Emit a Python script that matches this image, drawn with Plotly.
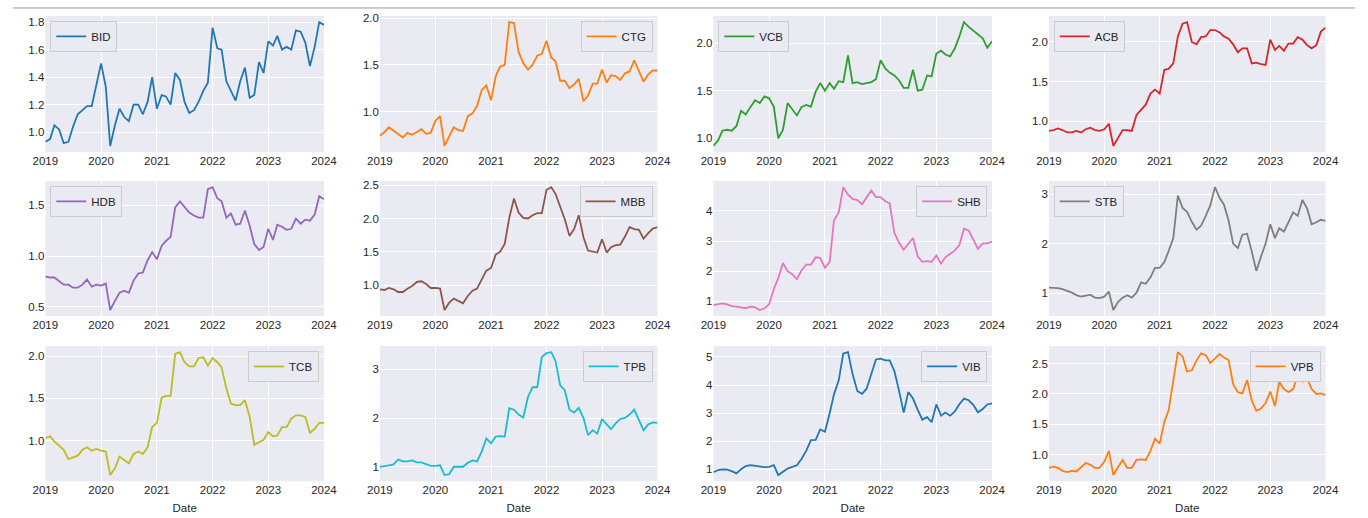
import pandas as pd
import plotly.graph_objects as go

# monthly closes, Jan 2019 .. Jan 2024 (relative to first point)
dates = pd.date_range("2019-01-01", periods=61, freq="MS")

BID = [0.93, 0.95, 1.05, 1.02, 0.92, 0.93, 1.04, 1.13, 1.16, 1.19, 1.19, 1.35,
       1.50, 1.33, 0.90, 1.05, 1.17, 1.11, 1.08, 1.20, 1.20, 1.13, 1.22, 1.40,
       1.17, 1.27, 1.26, 1.20, 1.43, 1.38, 1.22, 1.14, 1.16, 1.22, 1.30, 1.36,
       1.76, 1.61, 1.60, 1.37, 1.30, 1.23, 1.37, 1.47, 1.25, 1.27, 1.51, 1.43,
       1.66, 1.63, 1.70, 1.60, 1.62, 1.60, 1.74, 1.73, 1.65, 1.48, 1.62, 1.80,
       1.78]
CTG = [0.74, 0.78, 0.83, 0.79, 0.75, 0.72, 0.77, 0.75, 0.78, 0.81, 0.76, 0.77,
       0.90, 0.95, 0.63, 0.73, 0.83, 0.80, 0.79, 0.95, 0.98, 1.06, 1.23, 1.28,
       1.12, 1.38, 1.48, 1.50, 1.96, 1.95, 1.64, 1.52, 1.45, 1.50, 1.60, 1.62,
       1.76, 1.58, 1.54, 1.33, 1.33, 1.25, 1.29, 1.35, 1.11, 1.17, 1.30, 1.30,
       1.45, 1.31, 1.39, 1.38, 1.34, 1.41, 1.43, 1.55, 1.44, 1.32, 1.40, 1.44,
       1.44]
VCB = [0.92, 0.98, 1.08, 1.09, 1.08, 1.13, 1.29, 1.25, 1.33, 1.40, 1.37, 1.44,
       1.42, 1.33, 1.00, 1.09, 1.37, 1.30, 1.24, 1.33, 1.35, 1.33, 1.49, 1.58,
       1.50, 1.58, 1.52, 1.60, 1.59, 1.87, 1.58, 1.59, 1.57, 1.58, 1.59, 1.62,
       1.82, 1.73, 1.69, 1.66, 1.61, 1.53, 1.53, 1.72, 1.50, 1.51, 1.66, 1.65,
       1.89, 1.92, 1.88, 1.86, 1.94, 2.07, 2.22, 2.17, 2.13, 2.10, 2.05, 1.95,
       2.02]
ACB = [0.88, 0.89, 0.91, 0.89, 0.86, 0.86, 0.88, 0.86, 0.90, 0.92, 0.89, 0.88,
       0.90, 0.97, 0.69, 0.80, 0.89, 0.89, 0.88, 1.08, 1.14, 1.21, 1.35, 1.40,
       1.35, 1.65, 1.66, 1.73, 2.07, 2.23, 2.25, 2.00, 1.97, 2.06, 2.07, 2.15,
       2.15, 2.12, 2.07, 2.04, 1.97, 1.87, 1.92, 1.92, 1.73, 1.74, 1.72, 1.71,
       2.03, 1.90, 1.95, 1.89, 1.98, 1.98, 2.06, 2.03, 1.96, 1.92, 1.96, 2.13,
       2.18]
HDB = [0.80, 0.79, 0.79, 0.75, 0.72, 0.72, 0.69, 0.69, 0.72, 0.77, 0.70, 0.72,
       0.71, 0.73, 0.47, 0.56, 0.64, 0.66, 0.64, 0.76, 0.83, 0.84, 0.96, 1.04,
       0.97, 1.10, 1.15, 1.19, 1.48, 1.54, 1.48, 1.43, 1.40, 1.38, 1.38, 1.66,
       1.68, 1.57, 1.54, 1.38, 1.42, 1.31, 1.32, 1.45, 1.30, 1.12, 1.06, 1.09,
       1.27, 1.16, 1.31, 1.29, 1.26, 1.27, 1.37, 1.32, 1.36, 1.35, 1.41, 1.59,
       1.56]
MBB = [0.94, 0.93, 0.96, 0.94, 0.90, 0.90, 0.95, 0.99, 1.05, 1.06, 1.02, 0.96,
       0.96, 0.95, 0.63, 0.74, 0.80, 0.77, 0.73, 0.84, 0.92, 0.95, 1.09, 1.22,
       1.26, 1.46, 1.50, 1.62, 2.01, 2.30, 2.09, 2.01, 2.00, 2.05, 2.08, 2.08,
       2.43, 2.47, 2.37, 2.16, 1.99, 1.74, 1.84, 2.05, 1.72, 1.52, 1.50, 1.49,
       1.69, 1.49, 1.57, 1.60, 1.61, 1.73, 1.87, 1.84, 1.83, 1.70, 1.78, 1.85,
       1.87]
SHB = [0.87, 0.90, 0.93, 0.90, 0.84, 0.82, 0.80, 0.77, 0.82, 0.80, 0.71, 0.76,
       0.90, 1.41, 1.77, 2.27, 2.00, 1.90, 1.73, 2.03, 2.22, 2.22, 2.46, 2.44,
       2.11, 2.31, 3.68, 3.95, 4.79, 4.54, 4.40, 4.36, 4.22, 4.43, 4.68, 4.46,
       4.46, 4.32, 4.25, 3.27, 2.95, 2.71, 2.92, 3.10, 2.49, 2.31, 2.33, 2.31,
       2.52, 2.25, 2.46, 2.57, 2.68, 2.87, 3.41, 3.35, 3.01, 2.74, 2.92, 2.92,
       2.98]
STB = [1.11, 1.11, 1.10, 1.08, 1.05, 1.01, 0.96, 0.93, 0.95, 0.97, 0.91, 0.90,
       0.93, 1.03, 0.66, 0.82, 0.91, 0.96, 0.91, 1.01, 1.22, 1.19, 1.32, 1.51,
       1.51, 1.63, 1.85, 2.11, 2.97, 2.72, 2.64, 2.44, 2.28, 2.36, 2.56, 2.77,
       3.14, 2.92, 2.79, 2.46, 2.00, 1.91, 2.18, 2.20, 1.84, 1.45, 1.74, 2.00,
       2.39, 2.11, 2.31, 2.24, 2.43, 2.63, 2.56, 2.88, 2.71, 2.39, 2.43, 2.48,
       2.46]
TCB = [1.03, 1.05, 0.99, 0.94, 0.89, 0.78, 0.80, 0.82, 0.89, 0.92, 0.88, 0.90,
       0.88, 0.87, 0.59, 0.67, 0.81, 0.77, 0.73, 0.84, 0.87, 0.84, 0.92, 1.16,
       1.21, 1.51, 1.53, 1.53, 2.03, 2.05, 1.93, 1.88, 1.88, 1.98, 1.99, 1.89,
       1.98, 1.93, 1.87, 1.62, 1.44, 1.42, 1.42, 1.48, 1.28, 0.95, 0.98, 1.01,
       1.10, 1.05, 1.06, 1.16, 1.16, 1.26, 1.30, 1.30, 1.28, 1.09, 1.14, 1.21,
       1.21]
TPB = [1.00, 1.01, 1.03, 1.05, 1.15, 1.11, 1.11, 1.13, 1.09, 1.09, 1.06, 1.02,
       1.02, 1.03, 0.83, 0.85, 1.00, 1.00, 1.00, 1.08, 1.13, 1.11, 1.31, 1.58,
       1.48, 1.62, 1.63, 1.62, 2.20, 2.17, 2.07, 2.01, 2.43, 2.63, 2.63, 3.25,
       3.33, 3.35, 3.17, 2.67, 2.57, 2.17, 2.11, 2.21, 2.00, 1.65, 1.75, 1.68,
       1.98, 1.87, 1.77, 1.89, 1.98, 2.00, 2.07, 2.17, 1.97, 1.75, 1.87, 1.91,
       1.90]
VIB = [0.90, 0.98, 1.00, 0.99, 0.94, 0.86, 1.01, 1.12, 1.15, 1.13, 1.09, 1.08,
       1.09, 1.15, 0.80, 0.92, 1.03, 1.09, 1.15, 1.38, 1.67, 2.04, 2.05, 2.42,
       2.34, 3.00, 3.67, 4.16, 5.12, 5.17, 4.39, 3.79, 3.69, 3.87, 4.39, 4.91,
       4.94, 4.88, 4.88, 4.50, 3.81, 3.02, 3.75, 3.52, 3.12, 2.77, 2.86, 2.68,
       3.31, 2.91, 3.02, 2.91, 3.05, 3.32, 3.52, 3.46, 3.29, 3.03, 3.15, 3.31,
       3.35]
VPB = [0.78, 0.80, 0.78, 0.73, 0.71, 0.73, 0.72, 0.79, 0.86, 0.83, 0.78, 0.78,
       0.88, 1.06, 0.66, 0.79, 0.91, 0.78, 0.78, 0.91, 0.92, 0.91, 1.06, 1.26,
       1.18, 1.54, 1.73, 2.22, 2.69, 2.62, 2.37, 2.39, 2.55, 2.67, 2.64, 2.51,
       2.59, 2.66, 2.60, 2.56, 2.16, 2.03, 2.01, 2.23, 1.89, 1.72, 1.76, 1.85,
       2.04, 1.80, 2.20, 2.08, 2.03, 2.08, 2.31, 2.20, 2.26, 2.08, 2.00, 2.01,
       1.98]

tickers = ["BID", "CTG", "VCB", "ACB", "HDB", "MBB", "SHB", "STB", "TCB", "TPB", "VIB", "VPB"]
series = [BID, CTG, VCB, ACB, HDB, MBB, SHB, STB, TCB, TPB, VIB, VPB]
colors = ["#1f77b4", "#ff7f0e", "#2ca02c", "#d62728", "#9467bd", "#8c564b",
          "#e377c2", "#7f7f7f", "#bcbd22", "#17becf", "#1f77b4", "#ff7f0e"]
legend_side = ["left", "right", "left", "left", "left", "right",
               "right", "left", "right", "right", "right", "right"]
y_dtick = [0.2, 0.5, 0.5, 0.5, 0.5, 0.5, 1, 1, 0.5, 1, 1, 0.5]
years = [2019, 2020, 2021, 2022, 2023, 2024]

W, H = 1368, 518
col_left = [33, 374, 714, 1056]
col_right = [317, 657, 998, 1338]
row_top = [13, 179, 345]
row_bot = [150, 315, 481]

BG = "#EAEAF2"
TXT = "#262626"
FONT = "Liberation Sans, Arial, sans-serif"
FS = 11.5

fig = go.Figure()
layout = {}
for i, name in enumerate(tickers):
    r, c = divmod(i, 4)
    sfx = "" if i == 0 else str(i + 1)
    vals = series[i]
    fig.add_trace(go.Scatter(
        x=dates, y=vals, mode="lines", name=name,
        line=dict(color=colors[i], width=1.8),
        xaxis="x" + sfx, yaxis="y" + sfx, legend="legend" + sfx,
    ))
    lo, hi = min(vals), max(vals)
    pad = (hi - lo) * 0.05
    layout["xaxis" + sfx] = dict(
        domain=[col_left[c] / W, col_right[c] / W], anchor="y" + sfx,
        type="date", range=["2019-01-01", "2024-01-01"],
        tickvals=[f"{y}-01-01" for y in years], ticktext=[str(y) for y in years],
        showgrid=True, gridcolor="white", gridwidth=1, zeroline=False,
        showline=False, ticks="", tickfont=dict(size=FS, color=TXT),
        title=dict(text="Date", font=dict(size=FS, color=TXT), standoff=9) if r == 2 else None,
    )
    layout["yaxis" + sfx] = dict(
        domain=[1 - row_bot[r] / H, 1 - row_top[r] / H], anchor="x" + sfx,
        range=[lo - pad, hi + pad], tick0=0, dtick=y_dtick[i],
        tickformat=".1f" if y_dtick[i] < 1 else "d",
        showgrid=True, gridcolor="white", gridwidth=1, zeroline=False,
        showline=False, ticks="", tickfont=dict(size=FS, color=TXT),
    )
    if legend_side[i] == "left":
        lx, xa = (col_left[c] + 5) / W, "left"
    else:
        lx, xa = (col_right[c] - 5) / W, "right"
    layout["legend" + sfx] = dict(
        x=lx, xanchor=xa, y=1 - (row_top[r] + 5) / H, yanchor="top",
        bgcolor=BG, bordercolor="#cccccc", borderwidth=1,
        font=dict(size=FS, color=TXT, family=FONT), itemwidth=30,
        tracegroupgap=0,
    )

fig.update_layout(
    **layout,
    width=W, height=H,
    margin=dict(l=0, r=0, t=0, b=0),
    paper_bgcolor="white", plot_bgcolor=BG,
    font=dict(family=FONT, size=FS, color=TXT),
    showlegend=True,
)
# thin cell border at the very top
fig.add_shape(type="line", xref="paper", yref="paper", x0=0, x1=1,
              y0=1 - 5 / H, y1=1 - 5 / H, line=dict(color="#9a9a9a", width=1))

# drop the default page margin so the figure sits at the window origin
fig.write_html("out.html", config={"displayModeBar": False},
               post_script="document.body.style.margin='0';")
